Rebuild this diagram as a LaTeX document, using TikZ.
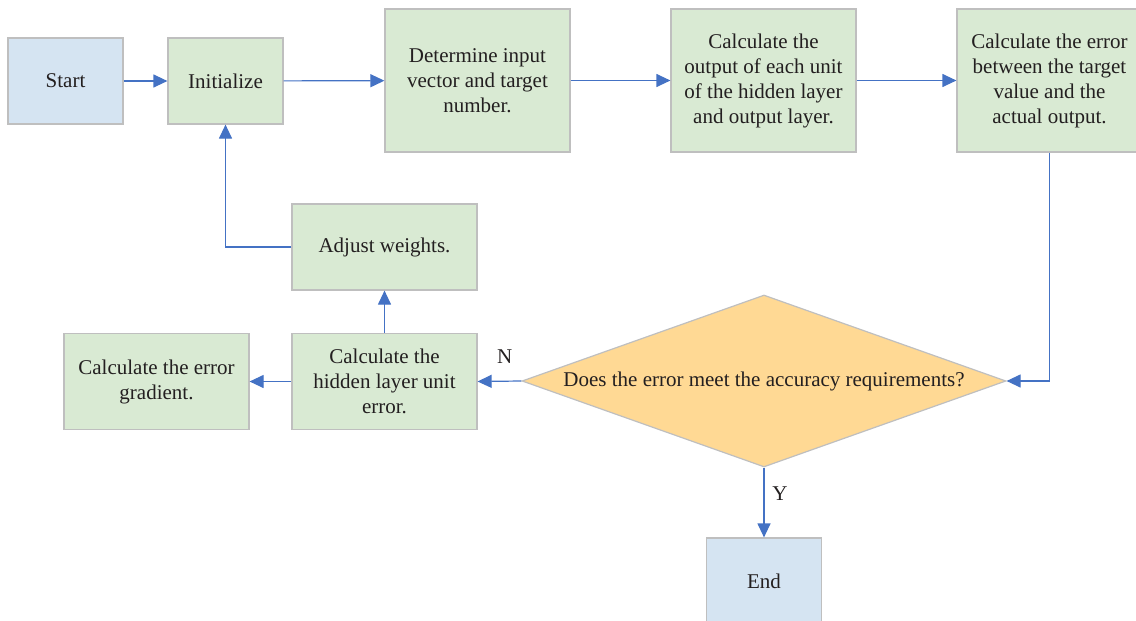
\documentclass[tikz,border=0pt]{standalone}
\usepackage{fontspec}
\setmainfont{Liberation Serif}
\usetikzlibrary{arrows.meta,shapes.geometric}
\definecolor{boxgreen}{HTML}{D9EAD3}
\definecolor{boxblue}{HTML}{D5E4F2}
\definecolor{boxgold}{HTML}{FFD994}
\definecolor{linegray}{HTML}{BFBFBF}
\definecolor{arrowblue}{HTML}{4472C4}
\definecolor{txt}{HTML}{231F20}
\tikzstyle{process}=[draw=linegray, line width=1.2pt, fill=boxgreen, minimum width=185pt, minimum height=86pt, inner sep=0pt, align=center, text=txt, font=\fontsize{21}{25}\selectfont]
\tikzstyle{terminal}=[process, fill=boxblue, minimum width=115pt]
\tikzstyle{decision}=[diamond, draw=linegray, line width=1.2pt, fill=boxgold, aspect=2.81, minimum width=484pt, minimum height=172pt, inner sep=1pt, text=txt, font=\fontsize{21}{25}\selectfont]
\tikzstyle{edge} = [draw=arrowblue, line width=1.2pt, -{Triangle[length=14pt,width=13pt]}]
\tikzstyle{answer} = [text=txt, inner sep=0pt, font=\fontsize{21}{25}\selectfont]

\begin{document}
\begin{tikzpicture}[x=1pt, y=-1pt]
    \useasboundingbox (0,0) rectangle (1136,621);

    % top row
    \node[terminal] (start) at (65.5,81) {Start};
    \node[process, minimum width=115pt] (init) at (225.5,81) {Initialize};
    \node[process, minimum height=143pt] (input) at (477.5,80.5) {Determine input\\vector and target\\number.};
    \node[process, minimum height=143pt] (output) at (763.5,80.5) {Calculate the\\output of each unit\\of the hidden layer\\and output layer.};
    \node[process, minimum height=143pt] (error) at (1049.5,80.5) {Calculate the error\\between the target\\value and the\\actual output.};

    % lower part
    \node[process] (adjust) at (384.5,247) {Adjust weights.};
    \node[process, minimum height=96pt] (hidden) at (384.5,381.5) {Calculate the\\hidden layer unit\\error.};
    \node[process, minimum height=96pt] (gradient) at (156.5,381.5) {Calculate the error\\gradient.};
    \node[decision] (decide) at (764,381) {Does the error meet the accuracy requirements?};
    \node[terminal] (end) at (764,581) {End};

    % Connect vertices with edges
    \foreach \source/ \dest in {start/init, init/input, input/output, output/error, hidden/gradient, hidden/adjust}
        \path[edge] (\source) -- (\dest);

    \path[edge] (error.south) |- (decide.east);
    \path[edge] (adjust.west) -| (init.south);
    \path[edge] (decide.west) -- node[answer, pos=0.38, yshift=25pt] {N} (hidden.east);
    \path[edge] (decide.south) -- node[answer, pos=0.37, xshift=16pt] {Y} (end.north);

\end{tikzpicture}
\end{document}
